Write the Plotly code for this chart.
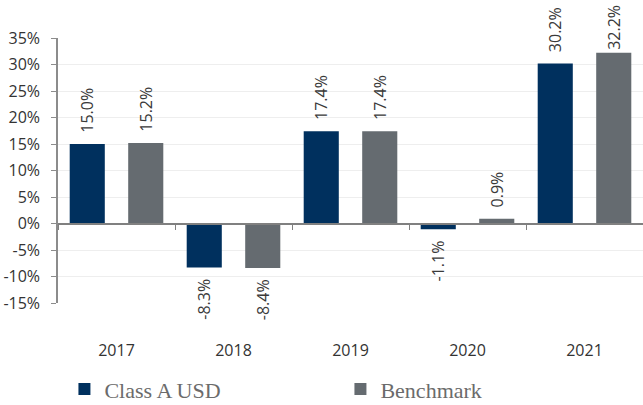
import plotly.graph_objects as go

years = ["2017", "2018", "2019", "2020", "2021"]
class_a = [15.0, -8.3, 17.4, -1.1, 30.2]
benchmark = [15.2, -8.4, 17.4, 0.9, 32.2]
y_ticks = [-15, -10, -5, 0, 5, 10, 15, 20, 25, 30, 35]

y_min, y_max = y_ticks[0], y_ticks[-1]
top_value = max(class_a + benchmark)

navy = "#00305E"
grey = "#656B70"
label_font = dict(family="Open Sans", size=16, color="#3a3a3a")
pad = "\u00a0\u00a0"


def fmt(v):
    s = f"{v:.1f}%"
    if v == top_value:
        return s  # no room above the tallest bar
    return pad + s if v >= 0 else s + pad


fig = go.Figure()
for name, vals, col in [("Class A USD", class_a, navy), ("Benchmark", benchmark, grey)]:
    fig.add_trace(go.Bar(
        x=years, y=vals, name=name, marker=dict(color=col, line=dict(width=0)),
        text=[fmt(v) for v in vals], textposition="outside", textangle=-90,
        textfont=label_font, constraintext="none", cliponaxis=False,
    ))

fig.update_layout(
    width=643, height=405,
    margin=dict(l=58, r=0, t=38, b=102, autoexpand=False),
    paper_bgcolor="white", plot_bgcolor="white",
    barmode="group", bargap=0.0, bargroupgap=0.40,
    font=dict(family="Open Sans", size=16, color="#333333"),
    showlegend=True,
    legend=dict(
        orientation="h", x=0.011, xanchor="left", y=-0.325, yanchor="middle",
        font=dict(family="Liberation Serif", size=22, color="#6b6b6b"),
        entrywidth=231, traceorder="normal",
    ),
    xaxis=dict(
        type="category", anchor="free", automargin=False,
        position=(0 - y_min) / (y_max - y_min),
        showline=True, linecolor="#808080", linewidth=2,
        ticks="outside", tickson="boundaries", ticklen=5, tickcolor="#808080",
        showgrid=False, ticklabelstandoff=112,
        tickfont=dict(family="Open Sans", size=16, color="#333333"),
    ),
    yaxis=dict(
        range=[y_min, y_max], tickvals=y_ticks, ticktext=[f"{t}%" for t in y_ticks],
        automargin=False,
        showline=True, linecolor="#8c8c8c", linewidth=1.5,
        ticks="outside", ticklen=5, tickcolor="#8c8c8c", ticklabelstandoff=8,
        showgrid=True, gridcolor="#eeeeee", gridwidth=1,
        zeroline=False,
        tickfont=dict(family="Open Sans", size=16, color="#333333"),
    ),
)

fig.write_html(
    "out.html",
    config={"displayModeBar": False},
    post_script="document.body.style.margin='0px';document.body.style.overflow='hidden';",
)
